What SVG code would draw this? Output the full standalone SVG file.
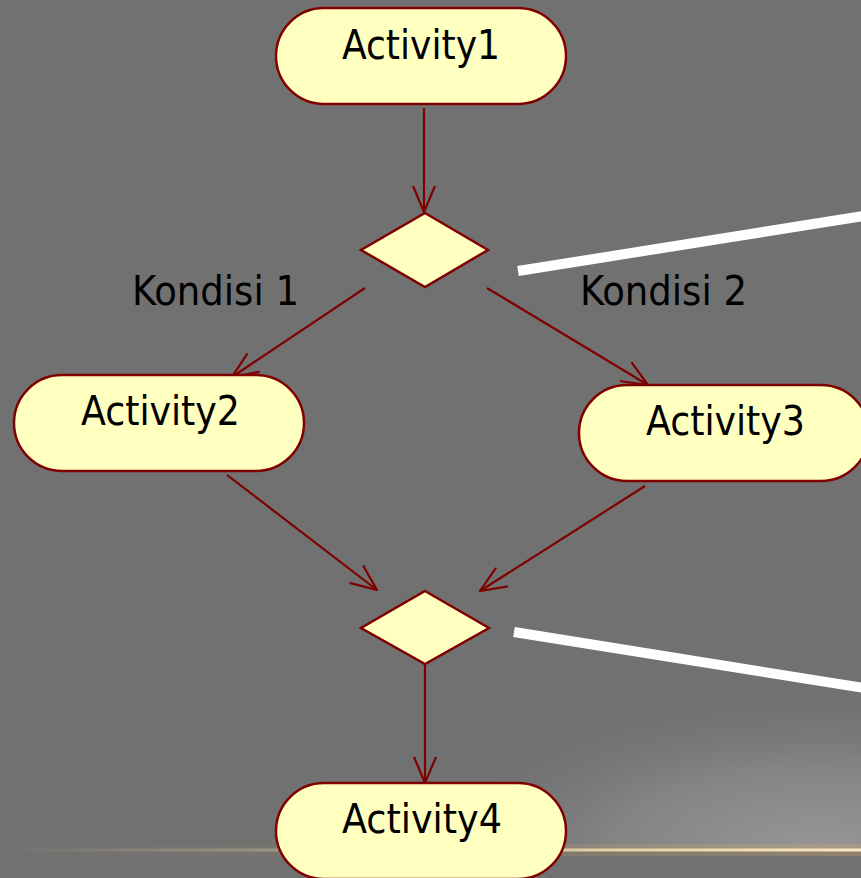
<svg xmlns="http://www.w3.org/2000/svg" width="861" height="878" viewBox="0 0 861 878">
<style>
.node{fill:#ffffc0;stroke:#800000;stroke-width:2.5}
.lbl{font-family:"DejaVu Sans Condensed","DejaVu Sans",sans-serif;font-size:40px;fill:#000}
.edge{fill:none;stroke:#800000;stroke-width:2.2}
.callout{stroke:#ffffff;stroke-width:10;fill:none}
</style>
<defs>
<marker id="arr" viewBox="0 0 28 24" refX="27" refY="12" markerWidth="28" markerHeight="24" markerUnits="userSpaceOnUse" orient="auto">
<path d="M1,1 L27,12 L1,23" fill="none" stroke="#800000" stroke-width="2.2"/>
</marker>
<radialGradient id="glow" cx="820" cy="850" r="420" gradientUnits="userSpaceOnUse" gradientTransform="translate(820 850) scale(1 0.4) translate(-820 -850)">
<stop offset="0" stop-color="#969696"/>
<stop offset="0.5" stop-color="#848484"/>
<stop offset="1" stop-color="#717171" stop-opacity="0"/>
</radialGradient>
<linearGradient id="gold" x1="0" y1="0" x2="861" y2="0" gradientUnits="userSpaceOnUse">
<stop offset="0" stop-color="#d8c8a0" stop-opacity="0"/>
<stop offset="0.3" stop-color="#d8c8a0" stop-opacity="0.35"/>
<stop offset="0.7" stop-color="#f0d8a8" stop-opacity="0.9"/>
<stop offset="1" stop-color="#f8e8c0" stop-opacity="1"/>
</linearGradient>
<linearGradient id="goldglow" x1="0" y1="0" x2="861" y2="0" gradientUnits="userSpaceOnUse">
<stop offset="0" stop-color="#c8a060" stop-opacity="0"/>
<stop offset="0.5" stop-color="#c8a060" stop-opacity="0.2"/>
<stop offset="1" stop-color="#d0a868" stop-opacity="0.55"/>
</linearGradient>
<clipPath id="above"><rect x="0" y="0" width="861" height="850"/></clipPath>
</defs>
<rect x="0" y="0" width="861" height="878" fill="#717171"/>
<rect x="0" y="600" width="861" height="250" fill="url(#glow)" clip-path="url(#above)"/>
<rect x="0" y="844" width="861" height="12" fill="url(#goldglow)" opacity="0.6"/>
<rect x="0" y="848.5" width="861" height="3" fill="url(#gold)"/>

<g id="callouts">
<line class="callout" x1="518" y1="271" x2="870" y2="215"/>
<line class="callout" x1="514" y1="632" x2="870" y2="689"/>
</g>

<g id="connectors">
<line class="edge" x1="424" y1="108" x2="424" y2="212" marker-end="url(#arr)"/>
<line class="edge" x1="365" y1="288" x2="232" y2="377" marker-end="url(#arr)"/>
<line class="edge" x1="487" y1="288" x2="648" y2="385" marker-end="url(#arr)"/>
<line class="edge" x1="227" y1="475" x2="377" y2="590" marker-end="url(#arr)"/>
<line class="edge" x1="645" y1="486" x2="480" y2="591" marker-end="url(#arr)"/>
<line class="edge" x1="425" y1="664" x2="425" y2="783" marker-end="url(#arr)"/>
</g>

<g id="activity1">
<rect class="node" x="276" y="8" width="290" height="96" rx="48" ry="48"/>
<text class="lbl" x="342" y="59" textLength="158" lengthAdjust="spacingAndGlyphs">Activity1</text>
</g>
<g id="decision1">
<polygon class="node" points="425,213 488,250 425,287 361,250"/>
</g>
<g id="activity2">
<rect class="node" x="14" y="375" width="290" height="96" rx="48" ry="48"/>
<text class="lbl" x="81" y="425" textLength="159" lengthAdjust="spacingAndGlyphs">Activity2</text>
</g>
<g id="activity3">
<rect class="node" x="579" y="385" width="290" height="96" rx="48" ry="48"/>
<text class="lbl" x="646" y="435" textLength="159" lengthAdjust="spacingAndGlyphs">Activity3</text>
</g>
<g id="decision2">
<polygon class="node" points="425,591 489,628 425,664 361,628"/>
</g>
<g id="activity4">
<rect class="node" x="276" y="783" width="290" height="96" rx="48" ry="48"/>
<text class="lbl" x="342" y="833" textLength="160" lengthAdjust="spacingAndGlyphs">Activity4</text>
</g>
<g id="labels">
<text class="lbl" x="132" y="305" textLength="167" lengthAdjust="spacingAndGlyphs">Kondisi 1</text>
<text class="lbl" x="580" y="305" textLength="167" lengthAdjust="spacingAndGlyphs">Kondisi 2</text>
</g>
</svg>
